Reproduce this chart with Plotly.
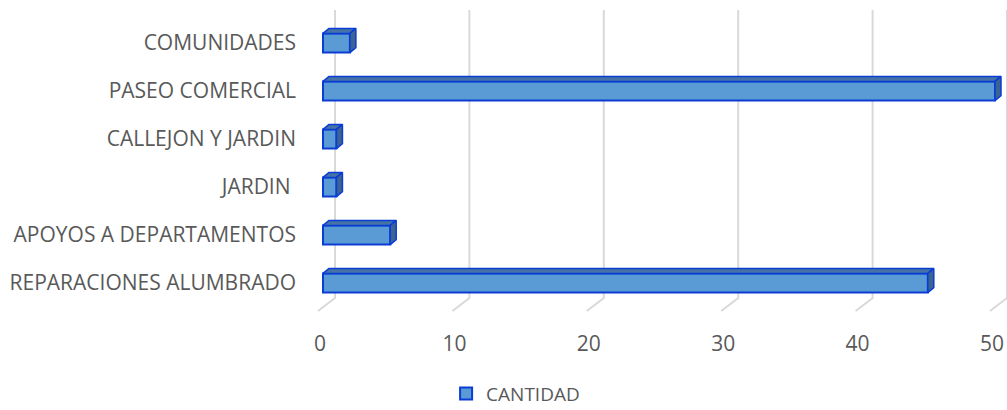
import plotly.graph_objects as go

categories = ["REPARACIONES ALUMBRADO", "APOYOS A DEPARTAMENTOS", "JARDIN ",
              "CALLEJON Y JARDIN", "PASEO COMERCIAL", "COMUNIDADES"]
cantidad = [45, 5, 1, 1, 50, 2]
x_ticks = [0, 10, 20, 30, 40, 50]
series_name = "CANTIDAD"

FONT = "Open Sans"
TEXT = "#595959"
FILL = "#5B9BD5"
EDGE = "#0A3CD6"
TOP = "#4573A6"
SIDE = "#3B6590"
GRID = "#D9D9D9"

W, H = 1007, 410
L, R, T = 305, 0, 7
PX_X = 13.44           # px per value unit
PX_Y = 48.0            # px per category
x0 = -18 / PX_X
xr = [x0, x0 + (W - L - R) / PX_X]
yr = [-0.75, 5.75]
BM = H - T - (yr[1] - yr[0]) * PX_Y

bw = 0.4               # bar thickness in category units
dxu = 6 / PX_X         # depth offset (x)
dyu = 5 / PX_Y         # depth offset (y)

ypos = list(range(len(categories)))

fig = go.Figure()

fig.add_trace(go.Bar(
    x=cantidad, y=ypos, orientation="h", width=bw, name=series_name,
    marker=dict(color=FILL, line=dict(color=EDGE, width=2)),
    showlegend=True, hoverinfo="skip",
))

# 3D top and side faces computed from the data
tx, ty, sx, sy = [], [], [], []
for yc, v in zip(ypos, cantidad):
    top = yc + bw / 2
    bot = yc - bw / 2
    tx += [0, v, v + dxu, dxu, 0, None]
    ty += [top, top, top + dyu, top + dyu, top, None]
    sx += [v, v, v + dxu, v + dxu, v, None]
    sy += [bot, top, top + dyu, bot + dyu, bot, None]

fig.add_trace(go.Scatter(x=tx, y=ty, mode="lines", fill="toself", fillcolor=TOP,
                         line=dict(color=EDGE, width=1.5), showlegend=False, hoverinfo="skip"))
fig.add_trace(go.Scatter(x=sx, y=sy, mode="lines", fill="toself", fillcolor=SIDE,
                         line=dict(color=EDGE, width=1.5), showlegend=False, hoverinfo="skip"))

# slanted back-wall gridlines
g_dx = 12 / PX_X
f_dx = 17 / PX_X
g_top = 273 / PX_Y
g_bot = -15 / PX_Y
g_foot = -28 / PX_Y
for v in x_ticks:
    gx = v + g_dx
    fig.add_shape(type="path", xref="x", yref="y", layer="below",
                  path=f"M {gx},{g_top} L {gx},{g_bot} L {gx - f_dx},{g_foot}",
                  line=dict(color=GRID, width=2))

fig.update_layout(
    width=W, height=H,
    margin=dict(l=L, r=R, t=T, b=BM, autoexpand=False),
    paper_bgcolor="white", plot_bgcolor="white",
    font=dict(family=FONT, color=TEXT),
    showlegend=True,
    legend=dict(orientation="h", xref="container", yref="container",
                x=0.443, xanchor="left", y=0.04, yanchor="middle",
                font=dict(size=19, color=TEXT, family=FONT),
                itemwidth=30),
)
fig.update_xaxes(range=xr, showgrid=False, zeroline=False, showline=False,
                 tickvals=x_ticks, ticktext=[str(t) for t in x_ticks],
                 ticks="", tickfont=dict(size=21, color=TEXT, family=FONT),
                 ticklabelstandoff=10, ticklabelshift=-3, fixedrange=True)
fig.update_yaxes(range=yr, showgrid=False, zeroline=False, showline=False,
                 tickvals=ypos, ticktext=categories, ticks="",
                 tickfont=dict(size=21, color=TEXT, family=FONT),
                 ticklabelstandoff=8, fixedrange=True)

fig.write_html("out.html", config={"displayModeBar": False},
               post_script="document.body.style.margin='0';document.body.style.overflow='hidden';")
